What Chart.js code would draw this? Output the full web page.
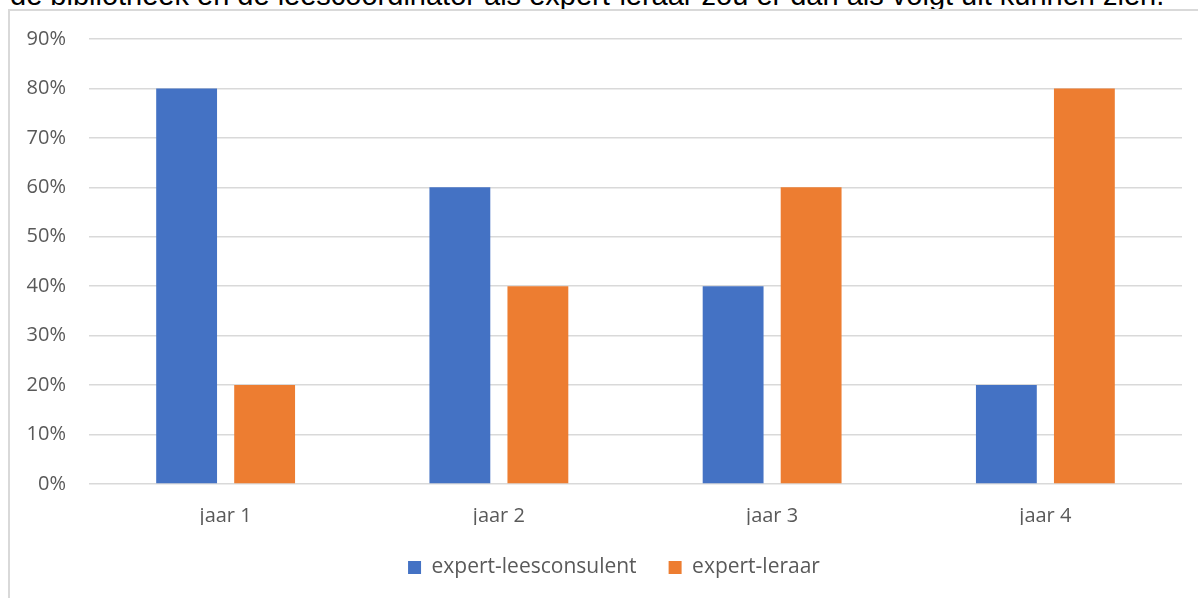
<!DOCTYPE html>
<html>
<head>
<meta charset="utf-8">
<script src="https://cdn.jsdelivr.net/npm/chart.js@4/dist/chart.umd.min.js"></script>
<style>
  html, body { margin: 0; padding: 0; background: #fff; overflow: hidden; }
  body { width: 1198px; height: 598px; position: relative; }
  #caption {
    position: absolute; left: 10px; top: -19px;
    font: 29px "Liberation Sans", Arial, sans-serif; line-height: 1;
    color: #000; white-space: nowrap;
  }
  #frame {
    position: absolute; left: 8px; top: 9px; width: 1300px; height: 700px;
    border-left: 2px solid #d9d9d9; border-top: 2px solid #d9d9d9;
  }
  #wrap { position: absolute; left: 0; top: 0; width: 1198px; height: 598px; }
</style>
</head>
<body>
<div id="caption">de bibliotheek en de leescoordinator als expert-leraar zou er dan als volgt uit kunnen zien.</div>
<div id="frame"></div>
<div id="wrap"><canvas id="chart"></canvas></div>
<script>
// data
const categories = ["jaar 1", "jaar 2", "jaar 3", "jaar 4"];
const leesconsulent = [80, 60, 40, 20];
const leraar = [20, 40, 60, 80];
const seriesNames = ["expert-leesconsulent", "expert-leraar"];

const tickFont = { family: "'Open Sans', sans-serif", size: 20 };
const legendFont = { family: "'Open Sans', sans-serif", size: 21 };

// the original legend sits a bit right of the page centre
const legendShift = {
  id: "legendShift",
  afterLayout(chart) {
    chart.legend.left += 23;
    chart.legend.right += 23;
  }
};

new Chart(document.getElementById("chart"), {
  type: "bar",
  data: {
    labels: categories,
    datasets: [
      { label: seriesNames[0], data: leesconsulent, backgroundColor: "#4472C4" },
      { label: seriesNames[1], data: leraar, backgroundColor: "#ED7D31" }
    ]
  },
  options: {
    responsive: true,
    maintainAspectRatio: false,
    animation: false,
    categoryPercentage: 0.571,
    barPercentage: 0.78,
    layout: { padding: { left: 0, right: 16, top: 39, bottom: 10 } },
    scales: {
      y: {
        min: 0, max: 90,
        afterFit: s => { s.width = 89; },
        ticks: { stepSize: 10, padding: 23, color: "#595959", font: tickFont,
                 callback: v => v + "%" },
        grid: { color: "#d9d9d9", lineWidth: 1.5, drawTicks: false },
        border: { display: false }
      },
      x: {
        afterFit: s => { s.height = 41; },
        ticks: { padding: 20, color: "#595959", font: tickFont },
        grid: { display: false, drawTicks: false },
        border: { display: false }
      }
    },
    plugins: {
      legend: {
        position: "bottom",
        labels: { color: "#595959", font: legendFont, boxWidth: 13, boxHeight: 13, padding: 32 }
      },
      tooltip: { enabled: false }
    }
  },
  plugins: [legendShift]
});
</script>
</body>
</html>
